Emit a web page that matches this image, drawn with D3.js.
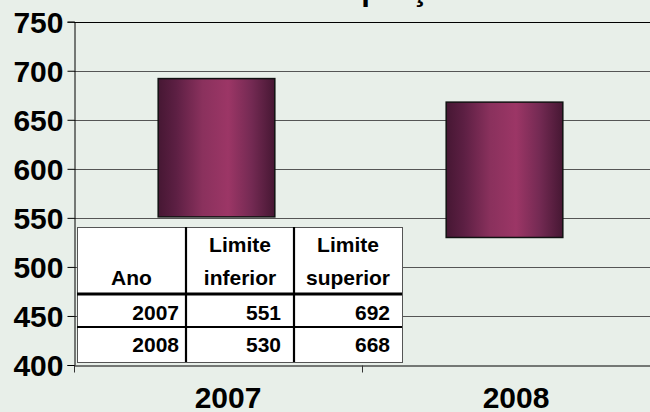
<!DOCTYPE html>
<html>
<head>
<meta charset="utf-8">
<script src="https://cdn.jsdelivr.net/npm/d3@7"></script>
<style>
  html, body { margin: 0; padding: 0; background: #e8efe9; }
  svg { display: block; }
  text { font-family: "Liberation Sans", Arial, sans-serif; font-weight: bold; fill: #000; }
</style>
</head>
<body>
<svg id="chart" width="650" height="412"></svg>
<script>
const title = "Proporção";
const years = ["2007", "2008"];
const lowerLimit = [551, 530];
const upperLimit = [692, 668];
const yTicks = [400, 450, 500, 550, 600, 650, 700, 750];
const tableHeader = [["Ano"], ["Limite", "inferior"], ["Limite", "superior"]];

const W = 650, H = 412;
const svg = d3.select("#chart");
const plot = { left: 74, right: 650, top: 21.7, bottom: 365 };

const x = d3.scaleBand().domain(years).range([plot.left, plot.right]).padding(0);
const y = d3.scaleLinear().domain([400, 750]).range([plot.bottom, plot.top]);

// gradient for bars
const defs = svg.append("defs");
const grad = defs.append("linearGradient").attr("id", "barGrad")
  .attr("x1", "0%").attr("x2", "100%").attr("y1", "0%").attr("y2", "0%");
[[0, "#461733"], [0.15, "#5c1f43"], [0.38, "#8a315d"], [0.6, "#9c3666"], [0.8, "#742a53"], [1, "#461733"]]
  .forEach(([o, c]) => grad.append("stop").attr("offset", o).attr("stop-color", c));

// title (only descenders visible, as in reference)
svg.append("text").attr("x", 387).attr("y", 0)
  .attr("text-anchor", "middle").style("font-size", "31px").text(title);

// gridlines
svg.append("g").selectAll("line").data(yTicks.filter(d => d > 400 && d < 750)).join("line")
  .attr("x1", plot.left).attr("x2", plot.right)
  .attr("y1", d => Math.round(y(d)) + 0.5).attr("y2", d => Math.round(y(d)) + 0.5)
  .attr("stroke", "#555").attr("stroke-width", 1.2);
// top line
svg.append("line").attr("x1", plot.left).attr("x2", plot.right)
  .attr("y1", Math.round(y(750)) + 0.5).attr("y2", Math.round(y(750)) + 0.5)
  .attr("stroke", "#000").attr("stroke-width", 1.2);

// bars
const barW = x.bandwidth() * 0.405;
svg.append("g").selectAll("rect").data(years).join("rect")
  .attr("x", d => x(d) + x.bandwidth() / 2 - barW / 2 - 1.5)
  .attr("width", barW)
  .attr("y", (d, i) => y(upperLimit[i]))
  .attr("height", (d, i) => y(lowerLimit[i]) - y(upperLimit[i]))
  .attr("fill", "url(#barGrad)")
  .attr("stroke", "#111").attr("stroke-width", 1.5);

// y axis
const yAxis = d3.axisLeft(y).tickValues(yTicks).tickSize(7).tickPadding(4).tickFormat(d3.format("d"));
const gy = svg.append("g").attr("transform", `translate(${plot.left + 0.5},0)`).call(yAxis);
gy.select(".domain").attr("stroke", "#000");
gy.selectAll(".tick line").attr("stroke", "#000");
gy.selectAll(".tick text").style("font-size", "30px").attr("dy", "0.36em");

// x axis
const xAxis = d3.axisBottom(x).tickSize(0).tickPadding(0);
const gx = svg.append("g").attr("transform", `translate(0,${plot.bottom + 0.5})`).call(xAxis);
gx.select(".domain").attr("stroke", "#000");
gx.selectAll(".tick text").style("font-size", "30px").attr("y", 42.5).attr("dy", 0).attr("dx", 10);
// category separator ticks
gx.append("g").selectAll("line").data([plot.left, plot.left + x.step(), plot.right - 0.5]).join("line")
  .attr("x1", d => Math.round(d) + 0.5).attr("x2", d => Math.round(d) + 0.5)
  .attr("y1", 0).attr("y2", 7).attr("stroke", "#333");

// data table
const tbl = { left: 77, top: 227, colX: [77, 186, 294, 402], rowY: [227, 294, 327, 362] };
const tg = svg.append("g");
tg.append("rect").attr("x", tbl.left + 0.5).attr("y", tbl.top + 0.5)
  .attr("width", tbl.colX[3] - tbl.left).attr("height", tbl.rowY[3] - tbl.top)
  .attr("fill", "#fff").attr("stroke", "#555").attr("stroke-width", 1);
// inner vertical lines
tg.selectAll("line.v").data(tbl.colX.slice(1, 3)).join("line").attr("class", "v")
  .attr("x1", d => d).attr("x2", d => d).attr("y1", tbl.top).attr("y2", tbl.rowY[3])
  .attr("stroke", "#000").attr("stroke-width", 2.2);
// inner horizontal lines
tg.selectAll("line.h").data([[tbl.rowY[1], 3], [tbl.rowY[2], 2.2]]).join("line").attr("class", "h")
  .attr("x1", tbl.left).attr("x2", tbl.colX[3]).attr("y1", d => d[0]).attr("y2", d => d[0])
  .attr("stroke", "#000").attr("stroke-width", d => d[1]);

// header text
tableHeader.forEach((lines, c) => {
  const cx = (tbl.colX[c] + tbl.colX[c + 1]) / 2;
  const n = lines.length;
  lines.forEach((t, k) => {
    tg.append("text").attr("x", cx).attr("y", 285 - (n - 1 - k) * 33)
      .attr("text-anchor", "middle").style("font-size", "21px").text(t);
  });
});
// rows
const pads = [7, 13, 12];
const rowBase = [320, 352];
years.forEach((yr, r) => {
  const vals = [yr, lowerLimit[r], upperLimit[r]];
  vals.forEach((v, c) => {
    tg.append("text").attr("x", tbl.colX[c + 1] - pads[c]).attr("y", rowBase[r])
      .attr("text-anchor", "end").style("font-size", "21px").text(v);
  });
});
</script>
</body>
</html>
